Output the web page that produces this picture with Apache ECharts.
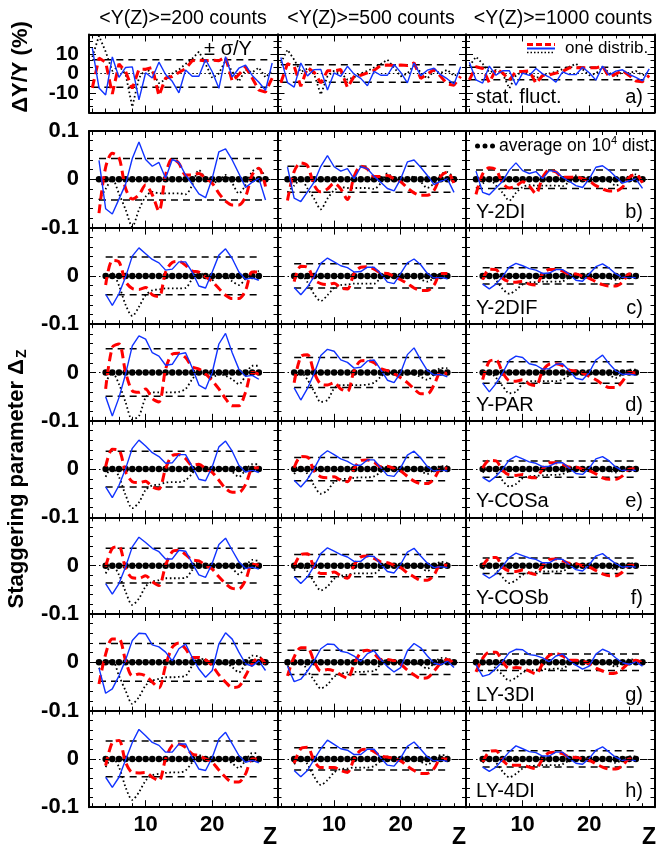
<!DOCTYPE html>
<html><head><meta charset="utf-8">
<script src="https://cdn.jsdelivr.net/npm/echarts@6/dist/echarts.min.js"></script>
<style>html,body{margin:0;padding:0;background:#fff}#c{width:658px;height:845px}</style>
</head><body><div id="c"></div>
<script>
// ---------- data ----------
const zTop = [2,3,4,5,6,7,8,9,10,11,12,13,14,15,16,17,18,19,20,21,22,23,24,25,26,27,28,29];
const zLong = [3,4,5,6,7,8,9,10,11,12,13,14,15,16,17,18,19,20,21,22,23,24,25,26,27,28];
const zShort = [4,5,6,7,8,9,10,11,12,13,14,15,16,17,18,19,20,21,22,23,24,25,26,27];
const avgLong = [0,0,0,0,0,0,0,0,0,0,0,0,0,0,0,0,0,0,0,0,0,0,0,0,0,0];
const avgShort = [0,0,0,0,0,0,0,0,0,0,0,0,0,0,0,0,0,0,0,0,0,0,0,0];
const countLabels = ['<Y(Z)>=200 counts','<Y(Z)>=500 counts','<Y(Z)>=1000 counts'];
const methodNames = ['stat. fluct.','Y-2DI','Y-2DIF','Y-PAR','Y-COSa','Y-COSb','LY-3DI','LY-4DI'];
const panelTags = ['a)','b)','c)','d)','e)','f)','g)','h)'];
const xLabelValues = [10,20];
const xMajorTicks = [10,20];
const xMinorTicks = [2,4,6,8,12,14,16,18,22,24,26,28];
const yTopLabelsOuter = [-10,10];
const yTopLabelsMid = [0];
const yTopMajor = [-10,0,10];
const yTopMinor = [-16.67,-13.33,-6.67,-3.33,3.33,6.67,13.33,16.67];
const yStagLabelsFirst = [-0.1,0,0.1];
const yStagLabels = [-0.1,0];
const yStagMajor = [0];
const yStagMinor = [-0.08,-0.06,-0.04,-0.02,0.02,0.04,0.06,0.08];
const sigmaTop = [7.07,4.47,3.16];
const sigma200 = [0.043,0.039,0.049,0.037,0.036,0.039,0.037];
const sigma500 = [0.027,0.025,0.031,0.024,0.023,0.025,0.023];
const sigma1000 = [0.019,0.017,0.022,0.017,0.016,0.017,0.017];

// a) stat. fluct. (%)
const a200_blue = [13.0,-7.4,-11.0,8.5,-2.0,3.1,3.4,-13.5,0.4,-2.3,5.8,-0.5,-4.0,-9.9,1.8,-1.4,-1.4,7.2,0.9,-7.6,8.6,-1.8,2.7,4.3,-1.0,-4.5,-8.6,5.4];
const a500_blue = [8.2,-4.7,-7.0,5.4,-1.3,2.0,2.1,-8.5,0.3,-1.5,3.7,-0.3,-2.5,-6.3,1.1,-0.9,-0.9,4.6,0.6,-4.8,5.4,-1.1,1.7,2.7,-0.6,-2.8,-5.4,3.4];
const a1000_blue = [5.8,-3.3,-4.9,3.8,-0.9,1.4,1.5,-6.0,0.2,-1.0,2.6,-0.2,-1.8,-4.4,0.8,-0.6,-0.6,3.2,0.4,-3.4,3.8,-0.8,1.2,1.9,-0.4,-2.0,-3.8,2.4];
const a200_red = [-7.4,7.9,5.8,-10.5,4.9,1.0,-7.7,2.2,2.2,3.1,-11.4,-2.3,-1.5,0.5,2.5,6.5,6.8,6.5,6.8,6.5,8.5,-4.0,-0.5,3.4,-2.3,-8.5,-9.5,-2.3];
const a500_red = [-4.7,5.0,3.7,-6.6,3.1,0.6,-4.9,1.4,1.4,2.0,-7.2,-1.5,-0.9,0.3,1.6,4.1,4.3,4.1,4.3,4.1,5.4,-2.5,-0.3,2.1,-1.5,-5.4,-6.0,-1.5];
const a1000_red = [-3.3,3.5,2.6,-4.7,2.2,0.4,-3.4,1.0,1.0,1.4,-5.1,-1.0,-0.7,0.2,1.1,2.9,3.0,2.9,3.0,2.9,3.8,-1.8,-0.2,1.5,-1.0,-3.8,-4.2,-1.0];
const a200_dot = [8.5,19.3,11.2,1.3,4.0,-0.5,-17.1,-2.3,2.2,0.5,-5.0,-3.0,0.0,2.0,4.9,7.6,11.2,4.9,-2.3,0.0,6.7,1.0,-4.1,2.0,0.5,3.0,-2.0,1.5];
const a500_dot = [5.4,12.2,7.1,0.8,2.5,-0.3,-10.8,-1.5,1.4,0.3,-3.2,-1.9,0.0,1.3,3.1,4.8,7.1,3.1,-1.5,0.0,4.2,0.6,-2.6,1.3,0.3,1.9,-1.3,0.9];
const a1000_dot = [3.8,8.6,5.0,0.6,1.8,-0.2,-7.6,-1.0,1.0,0.2,-2.2,-1.3,0.0,0.9,2.2,3.4,5.0,2.2,-1.0,0.0,3.0,0.4,-1.8,0.9,0.2,1.3,-0.9,0.7];

// b) Y-2DI
const b200_blue = [0.039,-0.061,-0.072,-0.041,-0.010,0.043,0.077,0.041,0.027,0.035,0.002,0.041,0.035,0.009,-0.010,-0.030,-0.038,0.002,0.057,0.063,0.040,0.012,-0.017,-0.006,0.002,-0.043];
const b500_blue = [0.025,-0.039,-0.046,-0.026,-0.006,0.027,0.049,0.026,0.017,0.022,0.001,0.026,0.022,0.006,-0.006,-0.019,-0.024,0.001,0.036,0.040,0.025,0.008,-0.011,-0.004,0.001,-0.027];
const b1000_blue = [0.017,-0.027,-0.032,-0.018,-0.004,0.019,0.034,0.018,0.012,0.016,0.001,0.018,0.016,0.004,-0.004,-0.013,-0.017,0.001,0.025,0.028,0.018,0.005,-0.008,-0.003,0.001,-0.019];
const b200_red = [-0.070,0.025,0.054,0.045,-0.019,-0.041,-0.032,-0.012,-0.032,-0.066,0.009,0.043,0.033,0.009,0.009,0.012,0.002,-0.008,-0.029,-0.045,-0.053,-0.053,-0.036,0.009,0.023,-0.015];
const b500_red = [-0.044,0.016,0.034,0.028,-0.012,-0.026,-0.020,-0.008,-0.020,-0.042,0.006,0.027,0.021,0.006,0.006,0.008,0.001,-0.005,-0.018,-0.028,-0.033,-0.033,-0.023,0.006,0.015,-0.009];
const b1000_red = [-0.031,0.011,0.024,0.020,-0.008,-0.018,-0.014,-0.005,-0.014,-0.030,0.004,0.019,0.015,0.004,0.004,0.005,0.001,-0.004,-0.013,-0.020,-0.024,-0.024,-0.016,0.004,0.010,-0.007];
const b200_dot = [-0.043,-0.020,0.000,-0.030,-0.063,-0.098,-0.063,-0.036,-0.026,-0.029,-0.029,-0.029,-0.029,-0.031,-0.012,0.019,0.002,-0.008,-0.002,0.009,-0.008,-0.029,-0.012,0.016,0.023,0.002];
const b500_dot = [-0.027,-0.013,0.000,-0.019,-0.040,-0.062,-0.040,-0.023,-0.016,-0.018,-0.018,-0.018,-0.018,-0.020,-0.008,0.012,0.001,-0.005,-0.001,0.006,-0.005,-0.018,-0.008,0.010,0.015,0.001];
const b1000_dot = [-0.019,-0.009,0.000,-0.013,-0.028,-0.044,-0.028,-0.016,-0.012,-0.013,-0.013,-0.013,-0.013,-0.014,-0.005,0.008,0.001,-0.004,-0.001,0.004,-0.004,-0.013,-0.005,0.007,0.010,0.001];

// c) Y-2DIF
const c200_blue = [-0.038,-0.061,-0.037,-0.002,0.041,0.058,0.046,0.034,0.027,0.012,0.014,0.029,0.029,0.008,-0.021,-0.025,0.008,0.043,0.056,0.036,0.008,-0.007,-0.004,-0.009];
const c500_blue = [-0.024,-0.039,-0.023,-0.001,0.026,0.037,0.029,0.021,0.017,0.008,0.009,0.018,0.018,0.005,-0.013,-0.016,0.005,0.027,0.035,0.023,0.005,-0.004,-0.003,-0.006];
const c1000_blue = [-0.017,-0.027,-0.017,-0.001,0.018,0.026,0.021,0.015,0.012,0.005,0.006,0.013,0.013,0.004,-0.009,-0.011,0.004,0.019,0.025,0.016,0.004,-0.003,-0.002,-0.004];
const c200_red = [-0.019,0.032,0.029,-0.012,-0.026,-0.028,-0.024,-0.039,-0.043,0.008,0.028,0.030,0.022,0.010,0.008,-0.002,-0.012,-0.026,-0.040,-0.047,-0.047,-0.030,0.008,0.008];
const c500_red = [-0.012,0.020,0.018,-0.008,-0.016,-0.018,-0.015,-0.025,-0.027,0.005,0.018,0.019,0.014,0.006,0.005,-0.001,-0.008,-0.016,-0.025,-0.030,-0.030,-0.019,0.005,0.005];
const c1000_red = [-0.008,0.014,0.013,-0.005,-0.012,-0.013,-0.011,-0.017,-0.019,0.004,0.013,0.013,0.010,0.004,0.004,-0.001,-0.005,-0.012,-0.018,-0.021,-0.021,-0.013,0.004,0.004];
const c200_dot = [-0.006,0.005,-0.020,-0.060,-0.083,-0.064,-0.040,-0.030,-0.028,-0.026,-0.026,-0.026,-0.025,-0.006,0.008,-0.002,-0.009,-0.002,-0.002,-0.011,-0.019,-0.006,0.008,0.010];
const c500_dot = [-0.004,0.003,-0.013,-0.038,-0.052,-0.040,-0.025,-0.019,-0.018,-0.016,-0.016,-0.016,-0.016,-0.004,0.005,-0.001,-0.006,-0.001,-0.001,-0.007,-0.012,-0.004,0.005,0.006];
const c1000_dot = [-0.003,0.002,-0.009,-0.027,-0.037,-0.029,-0.018,-0.013,-0.013,-0.012,-0.012,-0.012,-0.011,-0.003,0.004,-0.001,-0.004,-0.001,-0.001,-0.005,-0.008,-0.003,0.004,0.004];

// d) Y-PAR
const d200_blue = [-0.050,-0.090,-0.052,-0.003,0.055,0.076,0.069,0.041,0.034,0.015,0.017,0.038,0.041,0.010,-0.026,-0.034,0.000,0.059,0.081,0.041,0.007,-0.008,-0.006,-0.014];
const d500_blue = [-0.032,-0.057,-0.033,-0.002,0.035,0.048,0.044,0.026,0.021,0.009,0.011,0.024,0.026,0.006,-0.016,-0.021,0.000,0.037,0.051,0.026,0.004,-0.005,-0.004,-0.009];
const d1000_blue = [-0.022,-0.040,-0.023,-0.001,0.025,0.034,0.031,0.018,0.015,0.007,0.008,0.017,0.018,0.004,-0.012,-0.015,0.000,0.026,0.036,0.018,0.003,-0.004,-0.003,-0.006];
const d200_red = [-0.034,0.052,0.059,0.000,-0.038,-0.041,-0.034,-0.054,-0.061,0.007,0.038,0.040,0.031,0.012,0.007,-0.003,-0.017,-0.034,-0.054,-0.069,-0.069,-0.041,0.000,-0.003];
const d500_red = [-0.021,0.033,0.037,0.000,-0.024,-0.026,-0.021,-0.034,-0.039,0.004,0.024,0.025,0.020,0.008,0.004,-0.002,-0.011,-0.021,-0.034,-0.044,-0.044,-0.026,0.000,-0.002];
const d1000_red = [-0.015,0.023,0.026,0.000,-0.017,-0.018,-0.015,-0.024,-0.027,0.003,0.017,0.018,0.014,0.005,0.003,-0.001,-0.008,-0.015,-0.024,-0.031,-0.031,-0.018,0.000,-0.001];
const d200_dot = [-0.021,0.000,-0.024,-0.062,-0.097,-0.090,-0.052,-0.041,-0.041,-0.041,-0.041,-0.040,-0.034,-0.014,0.000,-0.003,-0.010,-0.003,-0.007,-0.014,-0.024,-0.007,0.014,0.014];
const d500_dot = [-0.013,0.000,-0.015,-0.039,-0.061,-0.057,-0.033,-0.026,-0.026,-0.026,-0.026,-0.025,-0.021,-0.009,0.000,-0.002,-0.006,-0.002,-0.004,-0.009,-0.015,-0.004,0.009,0.009];
const d1000_dot = [-0.009,0.000,-0.011,-0.028,-0.043,-0.040,-0.023,-0.018,-0.018,-0.018,-0.018,-0.018,-0.015,-0.006,0.000,-0.001,-0.004,-0.001,-0.003,-0.006,-0.011,-0.003,0.006,0.006];

// e) Y-COSa
const e200_blue = [-0.037,-0.059,-0.034,0.001,0.043,0.060,0.048,0.034,0.026,0.012,0.013,0.030,0.030,0.005,-0.021,-0.024,0.005,0.046,0.058,0.037,0.008,-0.006,-0.002,-0.007];
const e500_blue = [-0.023,-0.037,-0.021,0.001,0.027,0.038,0.030,0.021,0.016,0.008,0.008,0.019,0.019,0.003,-0.013,-0.015,0.003,0.029,0.037,0.023,0.005,-0.004,-0.001,-0.004];
const e1000_blue = [-0.017,-0.026,-0.015,0.000,0.019,0.027,0.021,0.015,0.012,0.005,0.006,0.013,0.013,0.002,-0.009,-0.011,0.002,0.021,0.026,0.017,0.004,-0.003,-0.001,-0.003];
const e200_red = [0.005,0.041,0.039,-0.006,-0.026,-0.028,-0.025,-0.037,-0.041,0.001,0.028,0.030,0.022,0.008,0.010,0.001,-0.007,-0.023,-0.040,-0.048,-0.048,-0.032,0.001,0.003];
const e500_red = [0.003,0.026,0.025,-0.004,-0.016,-0.018,-0.016,-0.023,-0.026,0.001,0.018,0.019,0.014,0.005,0.006,0.001,-0.004,-0.015,-0.025,-0.030,-0.030,-0.020,0.001,0.002];
const e1000_red = [0.002,0.018,0.017,-0.003,-0.012,-0.013,-0.011,-0.017,-0.018,0.000,0.013,0.013,0.010,0.004,0.004,0.000,-0.003,-0.010,-0.018,-0.021,-0.021,-0.014,0.000,0.001];
const e200_dot = [-0.016,0.005,-0.016,-0.054,-0.081,-0.069,-0.043,-0.034,-0.032,-0.028,-0.027,-0.027,-0.023,-0.009,0.008,0.001,-0.002,0.001,0.001,-0.006,-0.016,-0.002,0.010,0.010];
const e500_dot = [-0.010,0.003,-0.010,-0.034,-0.051,-0.044,-0.027,-0.021,-0.020,-0.018,-0.017,-0.017,-0.015,-0.006,0.005,0.001,-0.001,0.001,0.001,-0.004,-0.010,-0.001,0.006,0.006];
const e1000_dot = [-0.007,0.002,-0.007,-0.024,-0.036,-0.031,-0.019,-0.015,-0.014,-0.013,-0.012,-0.012,-0.010,-0.004,0.004,0.000,-0.001,0.000,0.000,-0.003,-0.007,-0.001,0.004,0.004];

// f) Y-COSb
const f200_blue = [-0.037,-0.059,-0.037,-0.002,0.039,0.059,0.048,0.036,0.029,0.014,0.014,0.032,0.030,0.005,-0.019,-0.024,0.005,0.044,0.057,0.032,0.008,-0.006,-0.003,-0.007];
const f500_blue = [-0.023,-0.037,-0.023,-0.001,0.025,0.037,0.030,0.023,0.018,0.009,0.009,0.020,0.019,0.003,-0.012,-0.015,0.003,0.028,0.036,0.020,0.005,-0.004,-0.002,-0.004];
const f1000_blue = [-0.017,-0.026,-0.017,-0.001,0.017,0.026,0.021,0.016,0.013,0.006,0.006,0.014,0.013,0.002,-0.008,-0.011,0.002,0.020,0.025,0.014,0.004,-0.003,-0.001,-0.003];
const f200_red = [-0.002,0.036,0.039,-0.006,-0.025,-0.026,-0.021,-0.033,-0.041,0.001,0.029,0.032,0.023,0.012,0.010,0.001,-0.007,-0.023,-0.037,-0.047,-0.048,-0.030,0.003,0.001];
const f500_red = [-0.001,0.023,0.025,-0.004,-0.016,-0.016,-0.013,-0.021,-0.026,0.001,0.018,0.020,0.015,0.008,0.006,0.001,-0.004,-0.015,-0.023,-0.030,-0.030,-0.019,0.002,0.001];
const f1000_red = [-0.001,0.016,0.017,-0.003,-0.011,-0.012,-0.009,-0.015,-0.018,0.000,0.013,0.014,0.010,0.005,0.004,0.000,-0.003,-0.010,-0.017,-0.021,-0.021,-0.013,0.001,0.000];
const f200_dot = [-0.016,0.001,-0.019,-0.054,-0.081,-0.068,-0.043,-0.033,-0.030,-0.026,-0.026,-0.026,-0.025,-0.009,0.008,0.001,-0.002,0.003,0.001,-0.006,-0.018,-0.002,0.012,0.010];
const f500_dot = [-0.010,0.001,-0.012,-0.034,-0.051,-0.043,-0.027,-0.021,-0.019,-0.016,-0.016,-0.016,-0.016,-0.006,0.005,0.001,-0.001,0.002,0.001,-0.004,-0.011,-0.001,0.008,0.006];
const f1000_dot = [-0.007,0.000,-0.008,-0.024,-0.036,-0.030,-0.019,-0.015,-0.013,-0.012,-0.012,-0.012,-0.011,-0.004,0.004,0.000,-0.001,0.001,0.000,-0.003,-0.008,-0.001,0.005,0.004];

// g) LY-3DI
const g200_blue = [-0.012,-0.064,-0.055,-0.028,0.005,0.045,0.060,0.059,0.036,0.032,0.021,0.003,0.028,0.038,0.010,-0.014,-0.031,-0.017,0.038,0.061,0.048,0.021,-0.003,-0.008,0.003,-0.017];
const g500_blue = [-0.008,-0.040,-0.035,-0.018,0.003,0.028,0.038,0.037,0.023,0.020,0.013,0.002,0.018,0.024,0.006,-0.009,-0.020,-0.011,0.024,0.039,0.030,0.013,-0.002,-0.005,0.002,-0.011];
const g1000_blue = [-0.005,-0.029,-0.025,-0.013,0.002,0.020,0.027,0.026,0.016,0.014,0.009,0.001,0.013,0.017,0.004,-0.006,-0.014,-0.008,0.017,0.027,0.021,0.009,-0.001,-0.004,0.001,-0.008];
const g200_red = [-0.045,0.017,0.048,0.048,0.003,-0.028,-0.024,-0.028,-0.041,-0.053,-0.007,0.031,0.040,0.028,0.010,0.010,0.005,-0.007,-0.026,-0.041,-0.052,-0.050,-0.028,-0.003,0.010,-0.003];
const g500_red = [-0.028,0.011,0.030,0.030,0.002,-0.018,-0.015,-0.018,-0.026,-0.033,-0.004,0.020,0.025,0.018,0.006,0.006,0.003,-0.004,-0.016,-0.026,-0.033,-0.032,-0.018,-0.002,0.006,-0.002];
const g1000_red = [-0.020,0.008,0.021,0.021,0.001,-0.013,-0.011,-0.013,-0.018,-0.024,-0.003,0.014,0.018,0.013,0.004,0.004,0.002,-0.003,-0.012,-0.018,-0.023,-0.022,-0.013,-0.001,0.004,-0.001];
const g200_dot = [-0.014,0.000,0.003,-0.028,-0.059,-0.086,-0.072,-0.048,-0.038,-0.034,-0.031,-0.031,-0.030,-0.028,-0.007,0.010,0.003,-0.003,-0.003,-0.002,-0.010,-0.021,-0.003,0.014,0.012,0.003];
const g500_dot = [-0.009,0.000,0.002,-0.018,-0.037,-0.054,-0.046,-0.030,-0.024,-0.021,-0.020,-0.020,-0.019,-0.018,-0.004,0.006,0.002,-0.002,-0.002,-0.001,-0.006,-0.013,-0.002,0.009,0.008,0.002];
const g1000_dot = [-0.006,0.000,0.001,-0.013,-0.026,-0.038,-0.032,-0.021,-0.017,-0.015,-0.014,-0.014,-0.013,-0.013,-0.003,0.004,0.001,-0.001,-0.001,-0.001,-0.004,-0.009,-0.001,0.006,0.005,0.001];

// h) LY-4DI
const h200_blue = [-0.038,-0.059,-0.038,-0.002,0.034,0.061,0.048,0.034,0.028,0.014,0.014,0.031,0.031,0.003,-0.021,-0.024,0.003,0.041,0.055,0.031,0.007,-0.007,-0.003,-0.008];
const h500_blue = [-0.024,-0.037,-0.024,-0.001,0.021,0.039,0.030,0.021,0.018,0.009,0.009,0.020,0.020,0.002,-0.013,-0.015,0.002,0.026,0.035,0.020,0.004,-0.004,-0.002,-0.005];
const h1000_blue = [-0.017,-0.026,-0.017,-0.001,0.015,0.027,0.021,0.015,0.013,0.006,0.006,0.014,0.014,0.001,-0.009,-0.011,0.001,0.018,0.025,0.014,0.003,-0.003,-0.001,-0.004];
const h200_red = [-0.014,0.034,0.038,-0.007,-0.028,-0.029,-0.028,-0.038,-0.045,0.000,0.028,0.031,0.024,0.010,0.007,0.000,-0.007,-0.023,-0.038,-0.048,-0.048,-0.031,0.000,0.000];
const h500_red = [-0.009,0.021,0.024,-0.004,-0.018,-0.018,-0.018,-0.024,-0.028,0.000,0.018,0.020,0.015,0.006,0.004,0.000,-0.004,-0.015,-0.024,-0.030,-0.030,-0.020,0.000,0.000];
const h1000_red = [-0.006,0.015,0.017,-0.003,-0.013,-0.013,-0.013,-0.017,-0.020,0.000,0.013,0.014,0.011,0.004,0.003,0.000,-0.003,-0.010,-0.017,-0.021,-0.021,-0.014,0.000,0.000];
const h200_dot = [-0.017,0.003,-0.017,-0.059,-0.085,-0.069,-0.045,-0.034,-0.031,-0.029,-0.028,-0.028,-0.024,-0.007,0.008,0.000,-0.005,0.000,0.000,-0.009,-0.019,-0.003,0.012,0.012];
const h500_dot = [-0.011,0.002,-0.011,-0.037,-0.054,-0.044,-0.028,-0.021,-0.020,-0.018,-0.018,-0.018,-0.015,-0.004,0.005,0.000,-0.003,0.000,0.000,-0.006,-0.012,-0.002,0.008,0.008];
const h1000_dot = [-0.008,0.001,-0.008,-0.026,-0.038,-0.031,-0.020,-0.015,-0.014,-0.013,-0.013,-0.013,-0.011,-0.003,0.004,0.000,-0.002,0.000,0.000,-0.004,-0.008,-0.001,0.005,0.005];

// ---------- assembly ----------
const rows = [
  {z:zTop, avg:null, sig:sigmaTop, sets:[[a200_blue,a200_red,a200_dot],[a500_blue,a500_red,a500_dot],[a1000_blue,a1000_red,a1000_dot]]},
  {z:zLong, avg:avgLong, sig:[sigma200[0],sigma500[0],sigma1000[0]], sets:[[b200_blue,b200_red,b200_dot],[b500_blue,b500_red,b500_dot],[b1000_blue,b1000_red,b1000_dot]]},
  {z:zShort, avg:avgShort, sig:[sigma200[1],sigma500[1],sigma1000[1]], sets:[[c200_blue,c200_red,c200_dot],[c500_blue,c500_red,c500_dot],[c1000_blue,c1000_red,c1000_dot]]},
  {z:zShort, avg:avgShort, sig:[sigma200[2],sigma500[2],sigma1000[2]], sets:[[d200_blue,d200_red,d200_dot],[d500_blue,d500_red,d500_dot],[d1000_blue,d1000_red,d1000_dot]]},
  {z:zShort, avg:avgShort, sig:[sigma200[3],sigma500[3],sigma1000[3]], sets:[[e200_blue,e200_red,e200_dot],[e500_blue,e500_red,e500_dot],[e1000_blue,e1000_red,e1000_dot]]},
  {z:zShort, avg:avgShort, sig:[sigma200[4],sigma500[4],sigma1000[4]], sets:[[f200_blue,f200_red,f200_dot],[f500_blue,f500_red,f500_dot],[f1000_blue,f1000_red,f1000_dot]]},
  {z:zLong, avg:avgLong, sig:[sigma200[5],sigma500[5],sigma1000[5]], sets:[[g200_blue,g200_red,g200_dot],[g500_blue,g500_red,g500_dot],[g1000_blue,g1000_red,g1000_dot]]},
  {z:zShort, avg:avgShort, sig:[sigma200[6],sigma500[6],sigma1000[6]], sets:[[h200_blue,h200_red,h200_dot],[h500_blue,h500_red,h500_dot],[h1000_blue,h1000_red,h1000_dot]]}
];

const FONT = 'Liberation Sans';
const colLeft = [89, 277.5, 466], colW = 188.5;
const topA = 34.5, hA = 78, top0 = 131, rowH = 96.6;
const grids = [], xAxes = [], yAxes = [], series = [], graphics = [];

function fmt(v){ return Math.abs(v) < 1e-9 ? '0' : String(+Number(v).toFixed(3)); }
function pairs(z, v){ return z.map((zz, i) => [zz, v[i]]); }
function txt(x, y, text, size, align, bold, extra){
  return Object.assign({type:'text', x:x, y:y, style:{text:text, fontFamily:FONT, fontSize:size, fontWeight:bold?'bold':'normal', fill:'#000',
    align:align, verticalAlign:'middle', textAlign:align, textVerticalAlign:'middle'}}, extra || {});
}
function mkX(gi, pos, major, labels){
  return {gridIndex:gi, type:'value', min:1.5, max:29.8, position:pos,
    axisLine:{show:major, onZero:false, lineStyle:{color:'#000', width:2}},
    axisTick:{show:true, inside:true, length:major?7:4, customValues:major?xMajorTicks:xMinorTicks, lineStyle:{color:'#000', width:1}},
    axisLabel:{show:labels, customValues:xLabelValues, margin:7, color:'#000', fontFamily:FONT, fontWeight:'bold', fontSize:22, hideOverlap:false},
    splitLine:{show:false}};
}
function mkY(gi, pos, major, labelValues, cfg){
  return {gridIndex:gi, type:'value', min:cfg.min, max:cfg.max, position:pos,
    axisLine:{show:major, onZero:false, lineStyle:{color:'#000', width:2}},
    axisTick:{show:true, inside:true, length:major?7:4, customValues:major?cfg.major:cfg.minor, lineStyle:{color:'#000', width:1}},
    axisLabel:{show:!!labelValues, customValues:labelValues || [0], margin:10, color:'#000', fontFamily:FONT, fontWeight:'bold', fontSize:cfg.fs,
      formatter:v => fmt(v), showMinLabel:true, showMaxLabel:true, hideOverlap:false},
    splitLine:{show:false}};
}

rows.forEach((row, r) => {
  const isTop = r === 0;
  const top = isTop ? topA : top0 + (r - 1) * rowH;
  const h = isTop ? hA : rowH;
  for (let c = 0; c < 3; c++){
    const gi = grids.length;
    grids.push({left:colLeft[c], top:top, width:colW, height:h, containLabel:false, outerBoundsMode:'none'});
    const bottomRow = r === rows.length - 1;
    const xi = xAxes.length;
    xAxes.push(mkX(gi,'bottom',true,bottomRow), mkX(gi,'bottom',false,false), mkX(gi,'top',true,false), mkX(gi,'top',false,false));
    const cfg = isTop ? {min:-20, max:20, major:yTopMajor, minor:yTopMinor, fs:21}
                      : {min:-0.1, max:0.1, major:yStagMajor, minor:yStagMinor, fs:22};
    let labA = null, labB = null;
    if (c === 0){
      if (isTop){ labA = yTopLabelsOuter; labB = yTopLabelsMid; }
      else { labA = (r === 1 ? yStagLabelsFirst : yStagLabels); }
    }
    const yi = yAxes.length;
    yAxes.push(mkY(gi,'left',true,labA,cfg), mkY(gi,'left',false,labB,cfg), mkY(gi,'right',true,null,cfg), mkY(gi,'right',false,null,cfg));

    const zs = row.z, n = zs.length;
    const blue = row.sets[c][0], red = row.sets[c][1], dot = row.sets[c][2];
    const sig = row.sig[c];
    const common = {xAxisIndex:xi, yAxisIndex:yi, symbol:'none', silent:true, animation:false};
    if (isTop){
      series.push(Object.assign({}, common, {type:'line', data:[[zs[0],0],[zs[n-1],0]], lineStyle:{color:'#000', width:1.2, type:[1.5,2.5]}}));
    }
    series.push(Object.assign({}, common, {type:'line', data:[[zs[0],sig],[zs[n-1],sig]], lineStyle:{color:'#000', width:1.5, type:[7,5]}}));
    series.push(Object.assign({}, common, {type:'line', data:[[zs[0],-sig],[zs[n-1],-sig]], lineStyle:{color:'#000', width:1.5, type:[7,5]}}));
    series.push(Object.assign({}, common, {type:'line', smooth:isTop?false:0.3, data:pairs(zs,dot), lineStyle:{color:'#000', width:1.8, type:[1.6,2.6]}}));
    series.push(Object.assign({}, common, {type:'line', smooth:isTop?false:0.3, data:pairs(zs,red), lineStyle:{color:'#ff0000', width:3, type:[9,5]}}));
    series.push(Object.assign({}, common, {type:'line', data:pairs(zs,blue), lineStyle:{color:'#1133ff', width:1.4}}));
    if (!isTop){
      series.push(Object.assign({}, common, {type:'scatter', symbol:'circle', symbolSize:6.5, itemStyle:{color:'#000', opacity:1}, data:pairs(zs,row.avg),
        markLine:{silent:true, symbol:'none', animation:false, label:{show:false}, lineStyle:{color:'#000', width:1, type:[7,3,1.5,3]}, data:[{yAxis:0}]}}));
    }
  }
  // panel labels (right column)
  const yLab = top + h - 15.5;
  graphics.push(txt(476, yLab, methodNames[r], 20, 'left', false));
  graphics.push(txt(643, yLab, panelTags[r], 20, 'right', false));
});

// column titles
const titleX = [183, 371, 563];
countLabels.forEach((t, c) => graphics.push(txt(titleX[c], 19, t, 19.5, 'center', false)));
// Z labels
[270, 459, 649].forEach(x => graphics.push(txt(x, 838, 'Z', 23, 'center', true)));
// y titles
graphics.push(txt(21, 67, 'ΔY/Y (%)', 22, 'center', true, {rotation:Math.PI/2}));
graphics.push({type:'text', x:17, y:479, rotation:Math.PI/2, style:{text:'{a|Staggering parameter Δ}{s|Z}', fill:'#000', align:'center', verticalAlign:'middle', textAlign:'center', textVerticalAlign:'middle',
  rich:{a:{fontFamily:FONT, fontWeight:'bold', fontSize:22, fill:'#000'}, s:{fontFamily:FONT, fontWeight:'bold', fontSize:14, fill:'#000', padding:[11,0,0,1]}}}});
// ± sigma/Y
graphics.push(txt(228, 49, '± σ/Y', 20, 'center', false));
// legend: one distrib.
graphics.push({type:'line', shape:{x1:527, y1:44.5, x2:555, y2:44.5}, style:{stroke:'#ff0000', lineWidth:3, lineDash:[6,3]}});
graphics.push({type:'line', shape:{x1:527, y1:48.5, x2:555, y2:48.5}, style:{stroke:'#1133ff', lineWidth:2}});
graphics.push({type:'line', shape:{x1:527, y1:52.5, x2:555, y2:52.5}, style:{stroke:'#000', lineWidth:1.5, lineDash:[1.5,2]}});
graphics.push(txt(565, 48.5, 'one distrib.', 17, 'left', false));
// legend: average
[477.5, 485, 492.5].forEach(x => graphics.push({type:'circle', shape:{cx:x, cy:146, r:2.5}, style:{fill:'#000'}}));
graphics.push({type:'text', x:499, y:146, style:{text:'{a|average on 10}{p|4}{a| dist.}', align:'left', verticalAlign:'middle', textAlign:'left', textVerticalAlign:'middle',
  rich:{a:{fontFamily:FONT, fontSize:17.5, fill:'#000'}, p:{fontFamily:FONT, fontSize:11, fill:'#000', padding:[0,0,10,0]}}}});

const chart = echarts.init(document.getElementById('c'), null, {renderer:'canvas', width:658, height:845});
chart.setOption({animation:false, backgroundColor:'#fff', grid:grids, xAxis:xAxes, yAxis:yAxes, series:series, graphic:graphics});
</script>
</body></html>
